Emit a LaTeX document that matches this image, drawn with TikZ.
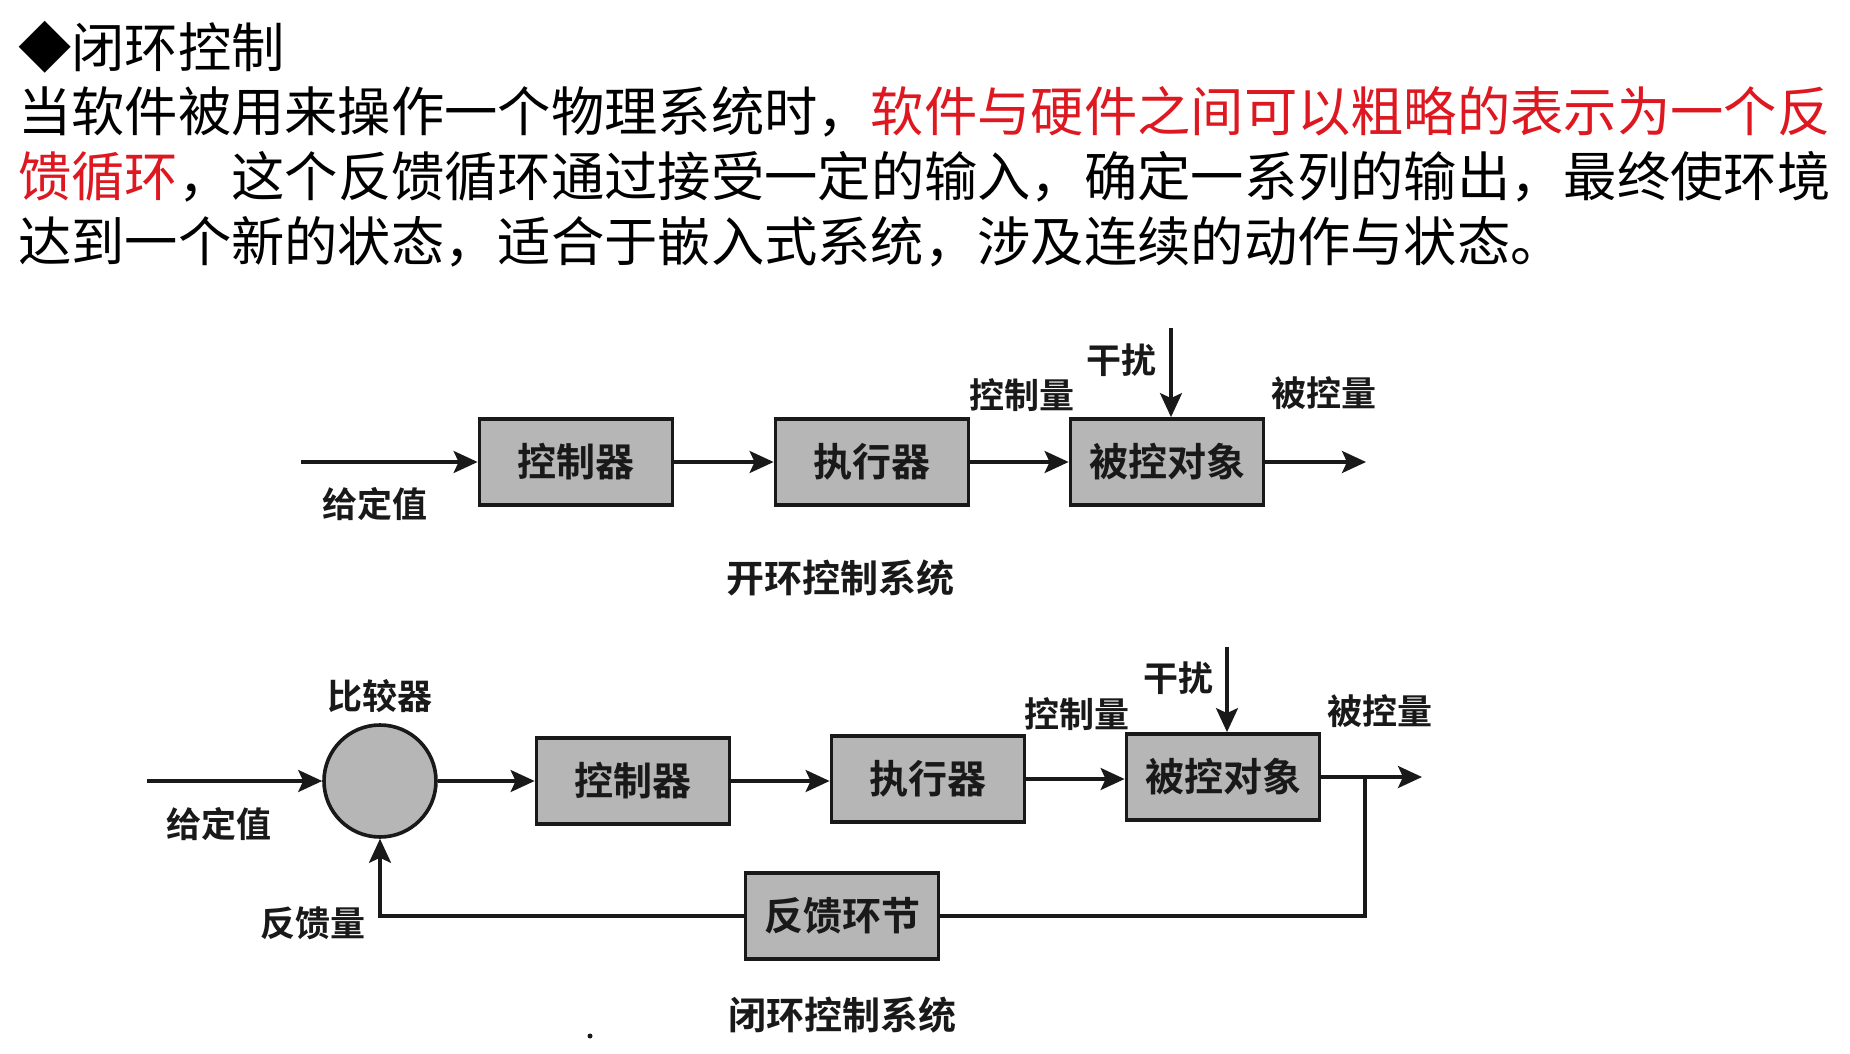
\documentclass[tikz,border=0pt]{standalone}
\usepackage{fontspec}
\newfontfamily\cjk[BoldFont={Noto Sans CJK SC Bold}]{Noto Sans CJK SC}
\usetikzlibrary{arrows.meta}
\definecolor{hlred}{RGB}{222,24,32}
\definecolor{blkfill}{RGB}{182,182,182}
\definecolor{ink}{RGB}{25,25,25}
\begin{document}
\begin{tikzpicture}[x=1pt,y=-1pt,
  hdr/.style={anchor=west,inner sep=0pt,font=\cjk\fontsize{53.3}{64}\selectfont},
  blk/.style={draw=ink,line width=3.8pt,fill=blkfill,minimum width=193pt,minimum height=86pt,inner sep=0pt,text=ink,font=\cjk\bfseries\fontsize{39}{44}\selectfont},
  cmpnode/.style={circle,draw=ink,line width=3.6pt,fill=blkfill,minimum size=112pt,inner sep=0pt},
  lbl/.style={inner sep=0pt,text=ink,font=\cjk\bfseries\fontsize{35}{40}\selectfont},
  ttl/.style={inner sep=0pt,text=ink,font=\cjk\bfseries\fontsize{38}{44}\selectfont},
  sig/.style={draw=ink,line width=3.2pt},
  arr/.style={sig,-{Stealth[length=24pt,width=22pt,inset=5pt]}}]
\useasboundingbox[fill=white] (0,0) rectangle (1850,1054);

% heading and explanatory paragraph
\node[hdr] (h1) at (18,47) {◆闭环控制};
\node[hdr] (h2) at (18,112) {当软件被用来操作一个物理系统时，\textcolor{hlred}{软件与硬件之间可以粗略的表示为一个反}};
\node[hdr] (h3) at (18,177) {\textcolor{hlred}{馈循环}，这个反馈循环通过接受一定的输入，确定一系列的输出，最终使环境};
\node[hdr] (h4) at (18,242) {达到一个新的状态，适合于嵌入式系统，涉及连续的动作与状态。};

% ---------- open-loop system ----------
\node[blk] (c1) at (576,462) {控制器};
\node[blk] (e1) at (872,462) {执行器};
\node[blk] (p1) at (1167,462) {被控对象};
\coordinate (in1) at (301,462);
\coordinate (d1) at (1171,328);
\coordinate (o1) at (1366,462);
\draw[arr] (in1) -- (c1.west);
\draw[arr] (c1.east) -- (e1.west);
\draw[arr] (e1.east) -- (p1.west);
\draw[arr] (d1) -- (d1 |- p1.north);
\draw[arr] (p1.east) -- (o1);
\node[lbl] (l1a) at (375,504) {给定值};
\node[lbl] (l1b) at (1022,395) {控制量};
\node[lbl] (l1c) at (1121,360) {干扰};
\node[lbl] (l1d) at (1324,393) {被控量};
\node[ttl] (t1) at (840,578) {开环控制系统};

% ---------- closed-loop system ----------
\node[cmpnode] (cmp) at (380,781) {};
\node[blk] (c2) at (633,781) {控制器};
\node[blk] (e2) at (928,779) {执行器};
\node[blk] (p2) at (1223,777) {被控对象};
\node[blk] (fb) at (842,916) {反馈环节};
\coordinate (in2) at (147,781);
\coordinate (d2) at (1227,647);
\coordinate (o2) at (1422,777);
\coordinate (br) at (1365,777);
\draw[arr] (in2) -- (cmp.west);
\draw[arr] (cmp.east) -- (c2.west);
\draw[arr] (c2.east) -- (c2.east -| e2.west);
\draw[arr] (e2.east) -- (e2.east -| p2.west);
\draw[arr] (d2) -- (d2 |- p2.north);
\draw[arr] (p2.east) -- (o2);
\draw[sig] (br) |- (fb.east);
\draw[arr] (fb.west) -| (cmp.south);
\node[lbl] (l2a) at (380,696) {比较器};
\node[lbl] (l2b) at (219,824) {给定值};
\node[lbl] (l2c) at (1077,714) {控制量};
\node[lbl] (l2d) at (1178,678) {干扰};
\node[lbl] (l2e) at (1380,711) {被控量};
\node[lbl] (l2f) at (313,923) {反馈量};
\node[ttl] (t2) at (842,1015) {闭环控制系统};
\fill[ink] (590,1036) circle (2.5);
\end{tikzpicture}
\end{document}
